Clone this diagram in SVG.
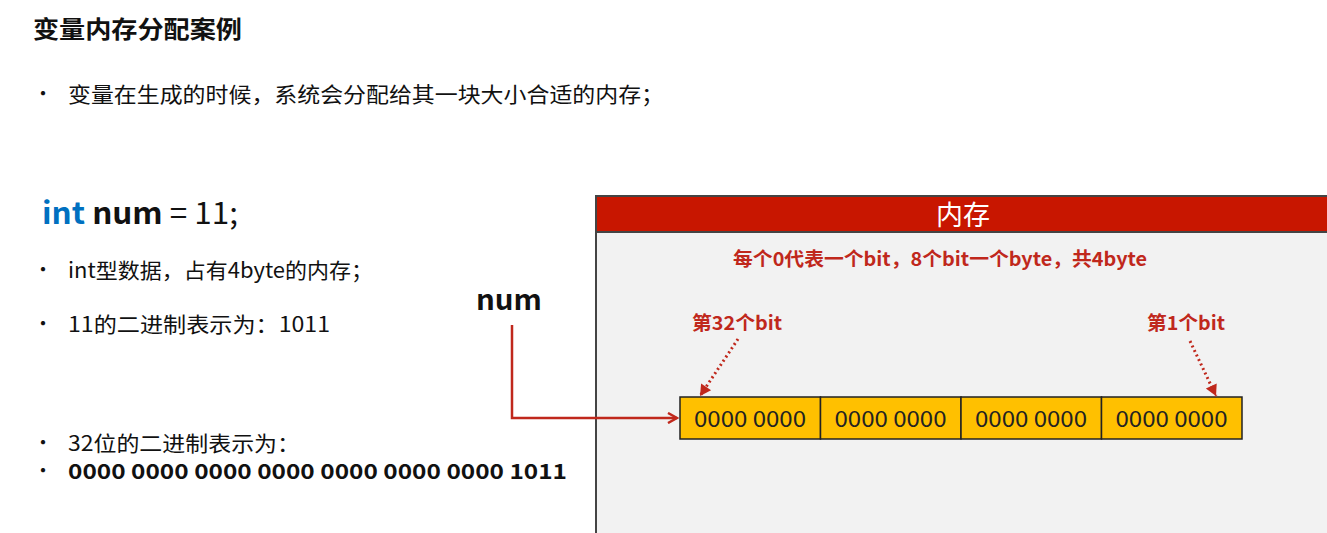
<svg xmlns="http://www.w3.org/2000/svg" width="1327" height="533" viewBox="0 0 1327 533">
<defs>
<style>
text{font-family:"Microsoft YaHei","Noto Sans CJK SC","Noto Sans",sans-serif;}
.b{font-size:21px;fill:#111;}
.dot{font-size:20px;fill:#111;}
.red{fill:#c0281c;font-weight:bold;font-size:19px;}
.cell{fill:#ffc000;stroke:#222;stroke-width:1.5;}
.ct{font-size:22px;fill:#222;text-anchor:middle;}
</style>
<marker id="ah" markerWidth="12" markerHeight="12" refX="10" refY="6" orient="auto" markerUnits="userSpaceOnUse">
<path d="M1,1 L10,6 L1,11" fill="none" stroke="#c0281c" stroke-width="2.5"/>
</marker>
<marker id="ah2" markerWidth="14" markerHeight="14" refX="12" refY="7" orient="auto" markerUnits="userSpaceOnUse">
<path d="M1,1 L12,7 L1,13 Z" fill="#c0281c"/>
</marker>
</defs>
<rect width="1327" height="533" fill="#ffffff"/>
<text x="33" y="38" font-size="24" font-weight="bold" fill="#111" textLength="209" lengthAdjust="spacingAndGlyphs">变量内存分配案例</text>
<text x="33" y="101" class="dot">•</text>
<text x="68" y="102" class="b" font-size="22" textLength="596" lengthAdjust="spacingAndGlyphs">变量在生成的时候，系统会分配给其一块大小合适的内存；</text>

<g id="code">
<text x="42" y="224" font-size="30" fill="#111" textLength="196" lengthAdjust="spacingAndGlyphs"><tspan fill="#0070c0" font-weight="bold">int</tspan><tspan font-weight="bold"> num</tspan> = 11;</text>
</g>
<text x="33" y="277" class="dot">•</text>
<text x="68" y="278" class="b" textLength="305" lengthAdjust="spacingAndGlyphs">int型数据，占有4byte的内存；</text>
<text x="33" y="331" class="dot">•</text>
<text x="68" y="332" class="b" textLength="262" lengthAdjust="spacingAndGlyphs">11的二进制表示为：1011</text>
<text x="33" y="450" class="dot">•</text>
<text x="68" y="451" class="b" textLength="232" lengthAdjust="spacingAndGlyphs">32位的二进制表示为：</text>
<text x="33" y="478" class="dot">•</text>
<text x="68" y="479" class="b" font-size="22" font-weight="bold" textLength="499" lengthAdjust="spacingAndGlyphs">0000 0000 0000 0000 0000 0000 0000 1011</text>

<g id="memory">
<rect x="596" y="196" width="740" height="345" fill="#f2f2f2" stroke="#444" stroke-width="2"/>
<rect x="596" y="196" width="740" height="36" fill="#c81600" stroke="#444" stroke-width="2"/>
<text x="963" y="225" font-size="27" fill="#ffffff" text-anchor="middle">内存</text>
<text x="733" y="266" class="red" textLength="414" lengthAdjust="spacingAndGlyphs">每个0代表一个bit，8个bit一个byte，共4byte</text>
</g>

<g id="cells">
<rect x="680" y="397" width="140.5" height="42" class="cell"/>
<rect x="820.5" y="397" width="140.5" height="42" class="cell"/>
<rect x="961" y="397" width="140.5" height="42" class="cell"/>
<rect x="1101.5" y="397" width="140.5" height="42" class="cell"/>
<text x="750" y="427" class="ct" textLength="112" lengthAdjust="spacingAndGlyphs">0000 0000</text>
<text x="890.5" y="427" class="ct" textLength="112" lengthAdjust="spacingAndGlyphs">0000 0000</text>
<text x="1031" y="427" class="ct" textLength="112" lengthAdjust="spacingAndGlyphs">0000 0000</text>
<text x="1171.5" y="427" class="ct" textLength="112" lengthAdjust="spacingAndGlyphs">0000 0000</text>
</g>

<g id="num-label">
<text x="476" y="310" font-size="28" font-weight="bold" fill="#111" textLength="66" lengthAdjust="spacingAndGlyphs">num</text>
</g>
<g id="bit32">
<text x="692" y="330" class="red" textLength="90" lengthAdjust="spacingAndGlyphs">第32个bit</text>
</g>
<g id="bit1">
<text x="1147" y="330" class="red" textLength="78" lengthAdjust="spacingAndGlyphs">第1个bit</text>
</g>

<g id="connectors">
<path d="M512,325 V418 H677" fill="none" stroke="#c0281c" stroke-width="2.5" marker-end="url(#ah)"/>
<line x1="738" y1="339" x2="700" y2="396" stroke="#c0281c" stroke-width="3" stroke-dasharray="2,3" marker-end="url(#ah2)"/>
<line x1="1190" y1="341" x2="1216" y2="396" stroke="#c0281c" stroke-width="3" stroke-dasharray="2,3" marker-end="url(#ah2)"/>
</g>
</svg>
